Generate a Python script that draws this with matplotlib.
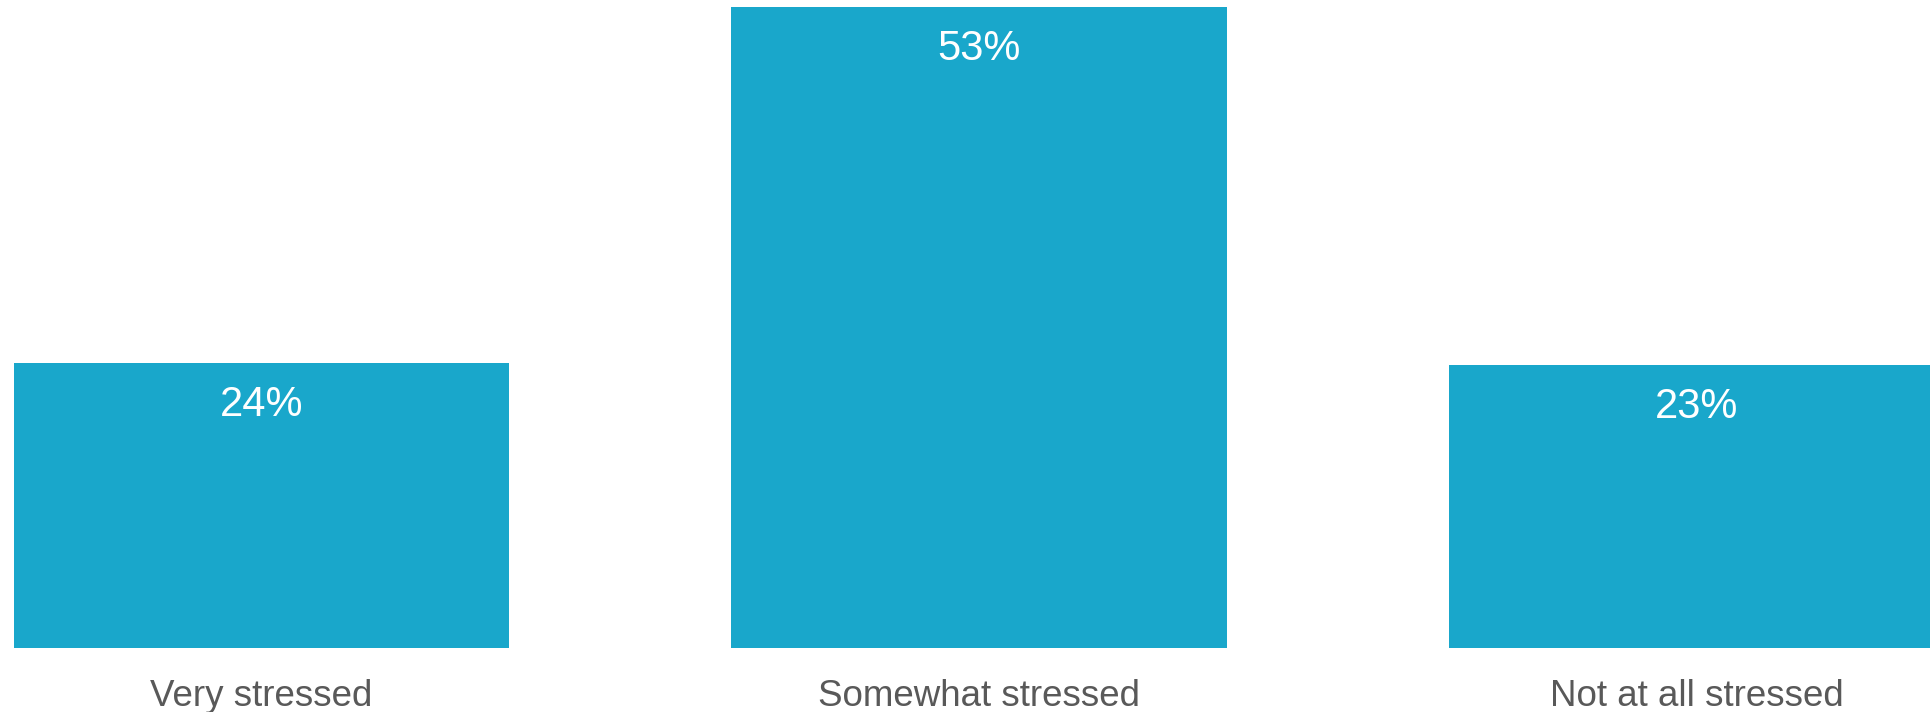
import matplotlib.pyplot as plt

categorias = ["Very stressed", "Somewhat stressed", "Not at all stressed"]
# alturas (os rótulos mostram os valores arredondados)
valores = [23.6, 53.0, 23.4]
rotulos = ["24%", "53%", "23%"]

plt.rcParams['font.family'] = ['Liberation Sans', 'DejaVu Sans']

fig = plt.figure(figsize=(19.31, 7.12), dpi=100)
ax = fig.add_axes([0, 0.0899, 1, 0.9101])

x = list(range(len(categorias)))
barras = ax.bar(x, valores, width=0.69, color='#19a7cb')

# Rótulos de valor dentro das barras
for b, r in zip(barras, rotulos):
    ax.annotate(r, (b.get_x() + b.get_width() / 2, b.get_height()),
                xytext=(0, -16), textcoords='offset points',
                ha='center', va='top', color='white', fontsize=30)

ax.set_xlim(-0.3645, 2.3268)
ax.set_ylim(0, 53.6)
ax.set_xticks(x)
ax.set_xticklabels(categorias, fontsize=26.5, color='#595959')
ax.tick_params(axis='x', length=0, pad=22)
ax.set_yticks([])
for s in ax.spines.values():
    s.set_visible(False)

fig.savefig('out.png', dpi=100)
